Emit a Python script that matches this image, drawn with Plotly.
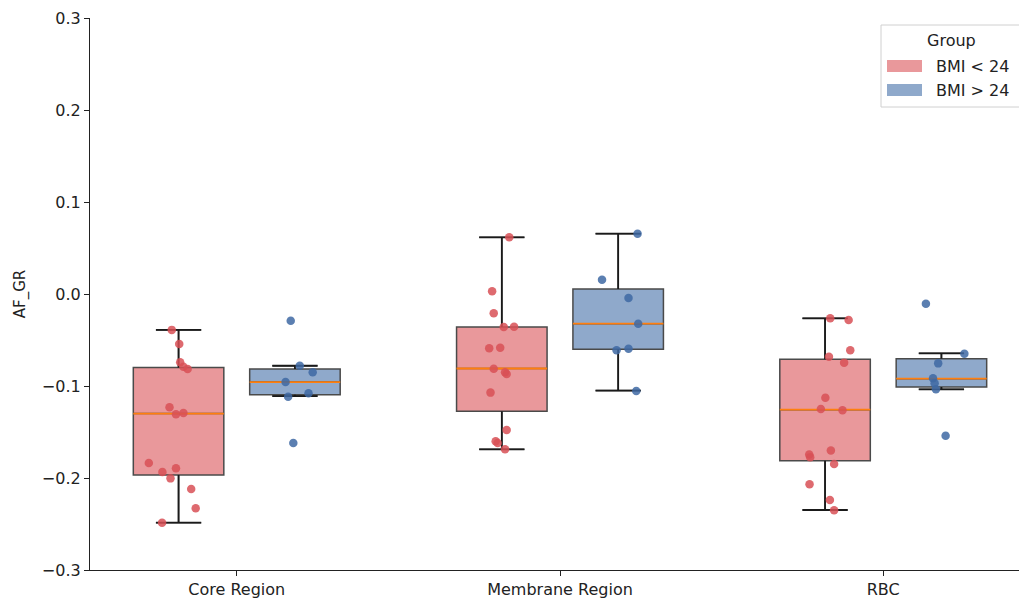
import plotly.graph_objects as go

# ---------------- data ----------------
categories = ["Core Region", "Membrane Region", "RBC"]
groups = ["BMI < 24", "BMI > 24"]

# individual values (AF_GR)
core_low = [-0.039, -0.0543, -0.0743, -0.079, -0.0815, -0.1232, -0.1308, -0.1294,
            -0.1837, -0.1935, -0.1895, -0.2004, -0.212, -0.233, -0.2486]
core_high = [-0.029, -0.078, -0.0851, -0.0957, -0.1116, -0.108, -0.162]
membrane_low = [0.0616, 0.0029, -0.021, -0.0359, -0.0355, -0.059, -0.0583, -0.0812,
                -0.085, -0.087, -0.1072, -0.1478, -0.160, -0.162, -0.1688]
membrane_high = [0.0656, 0.0156, -0.0043, -0.0323, -0.0612, -0.0594, -0.1054]
rbc_low = [-0.0264, -0.0283, -0.0612, -0.0681, -0.0746, -0.1127, -0.125, -0.1264,
           -0.170, -0.1745, -0.1775, -0.1848, -0.2069, -0.2239, -0.2351]
rbc_high = [-0.0105, -0.0649, -0.0754, -0.0917, -0.0971, -0.1036, -0.154]

# horizontal strip jitter (category units)
core_low_jit = [-0.021, 0.002, 0.005, 0.015, 0.028, -0.028, -0.008, 0.015,
                -0.092, -0.050, -0.008, -0.025, 0.039, 0.053, -0.051]
core_high_jit = [-0.013, 0.015, 0.055, -0.029, -0.021, 0.042, -0.005]
membrane_low_jit = [0.023, -0.030, -0.025, 0.006, 0.038, -0.039, -0.005, -0.025,
                    0.010, 0.015, -0.035, 0.015, -0.019, -0.013, 0.010]
membrane_high_jit = [0.060, -0.050, 0.032, 0.062, -0.005, 0.032, 0.056]
rbc_low_jit = [0.016, 0.073, 0.078, 0.012, 0.059, 0.001, -0.013, 0.054,
               0.018, -0.049, -0.046, 0.028, -0.048, 0.015, 0.028]
rbc_high_jit = [-0.048, 0.071, -0.010, -0.026, -0.021, -0.017, 0.013]

# box statistics (per category)
low_q1 = [-0.1967, -0.1275, -0.1812]
low_median = [-0.130, -0.081, -0.1257]
low_q3 = [-0.080, -0.0359, -0.071]
low_whisk_lo = [-0.2486, -0.1688, -0.2348]
low_whisk_hi = [-0.039, 0.0616, -0.0264]

high_q1 = [-0.1094, -0.0601, -0.1011]
high_median = [-0.0957, -0.0323, -0.092]
high_q3 = [-0.0815, 0.0054, -0.0703]
high_whisk_lo = [-0.111, -0.105, -0.1036]
high_whisk_hi = [-0.078, 0.0656, -0.0645]

yticks = [-0.3, -0.2, -0.1, 0.0, 0.1, 0.2, 0.3]

# ---------------- styling ----------------
OFFSET = 0.18
BOX_W = 0.28
red_fill = "#e9989b"
blue_fill = "#8fa9cb"
red_pt = "rgba(216,80,86,0.85)"
blue_pt = "rgba(62,105,163,0.85)"
median_col = "#ff7f0e"
edge_col = "#4a4a4a"
whisk_col = "#1a1a1a"
FONT = "DejaVu Sans, Liberation Sans, sans-serif"
FS = 16

points = {
    0: [(core_low, core_low_jit), (core_high, core_high_jit)],
    1: [(membrane_low, membrane_low_jit), (membrane_high, membrane_high_jit)],
    2: [(rbc_low, rbc_low_jit), (rbc_high, rbc_high_jit)],
}

fig = go.Figure()

stats = [
    (low_q1, low_median, low_q3, low_whisk_lo, low_whisk_hi, -OFFSET, red_fill),
    (high_q1, high_median, high_q3, high_whisk_lo, high_whisk_hi, OFFSET, blue_fill),
]

# boxes
for gi, (q1, med, q3, lo, hi, off, fill) in enumerate(stats):
    for ci in range(len(categories)):
        pos = ci + off
        fig.add_trace(go.Box(
            x=[pos], q1=[q1[ci]], median=[med[ci]], q3=[q3[ci]],
            lowerfence=[lo[ci]], upperfence=[hi[ci]],
            width=BOX_W, whiskerwidth=0.5,
            fillcolor=fill, line=dict(color=edge_col, width=1.5),
            boxpoints=False, showlegend=False, hoverinfo="skip",
        ))

# darker whiskers + caps, and orange medians
for gi, (q1, med, q3, lo, hi, off, fill) in enumerate(stats):
    for ci in range(len(categories)):
        pos = ci + off
        cap = BOX_W / 4
        fig.add_trace(go.Scatter(
            x=[pos, pos, None, pos, pos, None,
               pos - cap, pos + cap, None, pos - cap, pos + cap],
            y=[q3[ci], hi[ci], None, q1[ci], lo[ci], None,
               hi[ci], hi[ci], None, lo[ci], lo[ci]],
            mode="lines", line=dict(color=whisk_col, width=1.8),
            showlegend=False, hoverinfo="skip",
        ))
        fig.add_trace(go.Scatter(
            x=[pos - BOX_W / 2, pos + BOX_W / 2], y=[med[ci], med[ci]],
            mode="lines", line=dict(color=median_col, width=1.8),
            showlegend=False, hoverinfo="skip",
        ))

# strip points
for ci in range(len(categories)):
    for gi, (vals, jit) in enumerate(points[ci]):
        off = -OFFSET if gi == 0 else OFFSET
        fig.add_trace(go.Scatter(
            x=[ci + off + j for j in jit], y=vals, mode="markers",
            marker=dict(size=8.5, color=red_pt if gi == 0 else blue_pt, line=dict(width=0)),
            showlegend=False, name=groups[gi],
        ))

# ---------------- custom legend (matplotlib style) ----------------
L, T, W, H = 90, 18, 929, 552


def px(x):
    return (x - L) / W


def py(y):
    return (T + H - y) / H


shapes = [
    dict(type="rect", xref="paper", yref="paper", x0=px(881), x1=px(1030),
         y0=py(107), y1=py(25), line=dict(color="#d0d0d0", width=1),
         fillcolor="rgba(255,255,255,0.85)", layer="above"),
    dict(type="rect", xref="paper", yref="paper", x0=px(887), x1=px(922),
         y0=py(72), y1=py(60), line=dict(width=0), fillcolor=red_fill, layer="above"),
    dict(type="rect", xref="paper", yref="paper", x0=px(887), x1=px(922),
         y0=py(96), y1=py(84), line=dict(width=0), fillcolor=blue_fill, layer="above"),
]
annotations = [
    dict(text="Group", xref="paper", yref="paper", x=px(951), y=py(41), showarrow=False,
         xanchor="center", yanchor="middle", font=dict(size=FS, color="#222", family=FONT)),
    dict(text=groups[0], xref="paper", yref="paper", x=px(934), y=py(66), showarrow=False,
         xanchor="left", yanchor="middle", font=dict(size=FS, color="#222", family=FONT)),
    dict(text=groups[1], xref="paper", yref="paper", x=px(934), y=py(90), showarrow=False,
         xanchor="left", yanchor="middle", font=dict(size=FS, color="#222", family=FONT)),
]

fig.update_layout(
    width=1019, height=600,
    margin=dict(l=L, r=0, t=T, b=600 - T - H, pad=0),
    paper_bgcolor="white", plot_bgcolor="white",
    font=dict(family=FONT, size=FS, color="#222"),
    showlegend=False,
    shapes=shapes, annotations=annotations,
    xaxis=dict(
        range=[-0.454, 2.42], tickvals=list(range(len(categories))), ticktext=categories,
        showline=True, linecolor="#222", linewidth=1.2, ticks="outside", ticklen=5,
        tickcolor="#222", showgrid=False, zeroline=False, tickfont=dict(size=FS),
        automargin=False,
    ),
    yaxis=dict(
        range=[-0.3, 0.3], tickvals=yticks, tickformat=".1f",
        showline=True, linecolor="#222", linewidth=1.2, ticks="outside", ticklen=5,
        tickcolor="#222", showgrid=False, zeroline=False, tickfont=dict(size=FS),
        title=dict(text="AF_GR", font=dict(size=15), standoff=12),
        automargin=False,
    ),
)

fig.write_html(
    "out.html",
    config={"displayModeBar": False},
    post_script="document.body.style.margin='0';document.body.style.overflow='hidden';",
)
